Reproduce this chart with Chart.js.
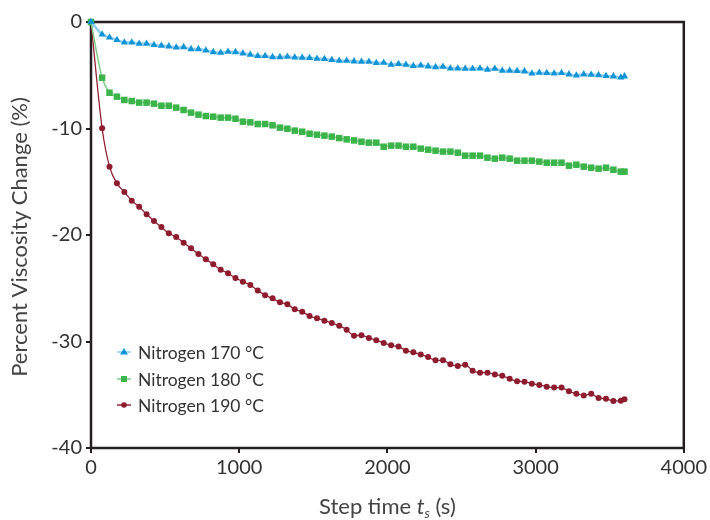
<!DOCTYPE html>
<html>
<head>
<meta charset="utf-8">
<script src="https://cdn.jsdelivr.net/npm/chart.js@4"></script>
<style>
  html, body { margin: 0; padding: 0; background: #fff; }
  #wrap { width: 710px; height: 520px; }
</style>
</head>
<body>
<div id="wrap"><canvas id="viscChart" width="710" height="520"></canvas></div>
<script>
// step time (s), shared by all three runs
const stepTimes = [0, 75, 125, 175, 225, 275, 325, 375, 425, 475, 525, 575, 625, 675, 725, 775, 825, 875, 925, 975,
  1025, 1075, 1125, 1175, 1225, 1275, 1325, 1375, 1425, 1475, 1525, 1575, 1625, 1675, 1725, 1775, 1825, 1875, 1925, 1975,
  2025, 2075, 2125, 2175, 2225, 2275, 2325, 2375, 2425, 2475, 2525, 2575, 2625, 2675, 2725, 2775, 2825, 2875, 2925, 2975,
  3025, 3075, 3125, 3175, 3225, 3275, 3325, 3375, 3425, 3475, 3525, 3575, 3600];

const n2_170 = [0, -1.16, -1.44, -1.69, -1.91, -1.91, -2.03, -2.03, -2.16, -2.22, -2.28, -2.38, -2.35, -2.54, -2.54, -2.66, -2.82, -2.88, -2.79, -2.82,
  -2.94, -3.07, -3.19, -3.19, -3.29, -3.29, -3.25, -3.32, -3.35, -3.38, -3.44, -3.47, -3.57, -3.63, -3.63, -3.69, -3.72, -3.72, -3.85, -3.82,
  -4.01, -3.94, -4.01, -4.13, -4.07, -4.16, -4.23, -4.19, -4.35, -4.35, -4.38, -4.38, -4.35, -4.48, -4.38, -4.57, -4.57, -4.60, -4.63, -4.82,
  -4.76, -4.79, -4.82, -4.79, -4.91, -5.01, -4.91, -4.95, -4.98, -5.07, -5.10, -5.20, -5.10];

const n2_180 = [0, -5.23, -6.64, -7.01, -7.32, -7.42, -7.57, -7.57, -7.67, -7.86, -7.86, -8.04, -8.26, -8.51, -8.70, -8.83, -8.89, -8.98, -8.98, -9.08,
  -9.36, -9.42, -9.58, -9.58, -9.70, -9.92, -10.02, -10.20, -10.30, -10.49, -10.58, -10.67, -10.76, -10.90, -11.02, -11.12, -11.24, -11.33, -11.33, -11.71,
  -11.61, -11.61, -11.71, -11.71, -11.89, -11.99, -12.08, -12.17, -12.17, -12.27, -12.55, -12.55, -12.55, -12.74, -12.83, -12.74, -12.83, -13.02, -13.02, -13.02,
  -13.11, -13.21, -13.21, -13.21, -13.49, -13.40, -13.58, -13.68, -13.77, -13.68, -13.87, -14.05, -14.05];

const n2_190 = [0, -9.98, -13.58, -15.15, -15.96, -16.78, -17.34, -18.06, -18.69, -19.25, -19.84, -20.19, -20.72, -21.25, -21.78, -22.28, -22.75, -23.26, -23.60, -24.04,
  -24.38, -24.69, -25.20, -25.66, -25.95, -26.32, -26.51, -26.98, -27.20, -27.61, -27.82, -28.04, -28.26, -28.51, -28.89, -29.45, -29.42, -29.67, -29.89, -30.14,
  -30.36, -30.48, -30.86, -31.02, -31.22, -31.46, -31.77, -31.77, -32.14, -32.30, -32.18, -32.74, -32.93, -32.93, -33.11, -33.21, -33.49, -33.74, -33.77, -33.96,
  -34.08, -34.24, -34.33, -34.33, -34.68, -34.90, -35.06, -34.90, -35.31, -35.37, -35.59, -35.56, -35.43];

const seriesNames = ['Nitrogen 170 °C', 'Nitrogen 180 °C', 'Nitrogen 190 °C'];
const xTicks = [0, 1000, 2000, 3000, 4000];
const yTicks = [0, -10, -20, -30, -40];

const FONT = 'Lato, "Open Sans", sans-serif';
const INK = '#231f20';

function toPoints(vals) {
    return stepTimes.map((t, i) => ({ x: t, y: vals[i] }));
}

const styles = [
    { line: '#8fd0f0', mark: '#1193d6', shape: 'triangle', r: 4.2, lw: 2.5 },
    { line: '#7fce86', mark: '#3bb44a', shape: 'rect', r: 4.6, lw: 1.5 },
    { line: '#8e2334', mark: '#8e1b2e', shape: 'circle', r: 3, lw: 1.3 }
];

// frame, axis titles and the little legend in the lower left
const decor = {
    id: 'decor',
    beforeDatasetsDraw(chart) {
        const { ctx, chartArea: a } = chart;
        ctx.save();
        ctx.strokeStyle = INK;
        ctx.lineWidth = 2.5;
        ctx.strokeRect(a.left, a.top, a.right - a.left, a.bottom - a.top);
        ctx.restore();
    },
    afterDraw(chart) {
        const { ctx, chartArea: a } = chart;
        ctx.save();
        ctx.fillStyle = '#444';
        ctx.font = '22px ' + FONT;
        ctx.textAlign = 'center';
        ctx.textBaseline = 'middle';
        ctx.translate(20, (a.top + a.bottom) / 2 + 2);
        ctx.rotate(-Math.PI / 2);
        ctx.fillText('Percent Viscosity Change (%)', 0, 0);
        ctx.restore();

        // x title with italic t and subscript s
        ctx.save();
        ctx.fillStyle = '#444';
        ctx.textBaseline = 'alphabetic';
        ctx.textAlign = 'left';
        const parts = [
            { s: 'Step time ', f: '22px ' + FONT, dy: 0 },
            { s: 't', f: 'italic 22px ' + FONT, dy: 0 },
            { s: 's', f: 'italic 13px ' + FONT, dy: 4 },
            { s: ' (s)', f: '22px ' + FONT, dy: 0 }
        ];
        let total = 0;
        parts.forEach(p => { ctx.font = p.f; p.w = ctx.measureText(p.s).width; total += p.w; });
        let x = (a.left + a.right) / 2 - total / 2;
        const base = 514;
        parts.forEach(p => { ctx.font = p.f; ctx.fillText(p.s, x, base + p.dy); x += p.w; });
        ctx.restore();

        // legend
        ctx.save();
        const rows = [352, 379, 405];
        styles.forEach((st, i) => {
            const y = rows[i];
            ctx.strokeStyle = st.line;
            ctx.lineWidth = 1.5;
            ctx.beginPath();
            ctx.moveTo(117, y);
            ctx.lineTo(131, y);
            ctx.stroke();
            ctx.fillStyle = st.mark;
            ctx.beginPath();
            if (st.shape === 'triangle') {
                ctx.moveTo(124, y - 4); ctx.lineTo(128, y + 2.5); ctx.lineTo(120, y + 2.5); ctx.closePath();
            } else if (st.shape === 'rect') {
                ctx.rect(121, y - 3, 6, 6);
            } else {
                ctx.arc(124, y, 2.8, 0, Math.PI * 2);
            }
            ctx.fill();
            ctx.fillStyle = '#333';
            ctx.font = '17.5px ' + FONT;
            ctx.textAlign = 'left';
            ctx.textBaseline = 'middle';
            ctx.fillText(seriesNames[i], 138, y + 1);
        });
        ctx.restore();
    }
};

const viscChart = new Chart(document.getElementById('viscChart').getContext('2d'), {
    type: 'line',
    data: {
        datasets: [n2_170, n2_180, n2_190].map((vals, i) => ({
            label: seriesNames[i],
            data: toPoints(vals),
            borderColor: styles[i].line,
            borderWidth: styles[i].lw,
            backgroundColor: styles[i].mark,
            pointBackgroundColor: styles[i].mark,
            pointBorderColor: styles[i].mark,
            pointBorderWidth: 0,
            pointStyle: styles[i].shape,
            pointRadius: styles[i].r,
            cubicInterpolationMode: 'monotone',
            fill: false,
            clip: false
        }))
    },
    options: {
        responsive: false,
        animation: false,
        layout: { padding: { top: 22, right: 24, left: 0, bottom: 0 } },
        plugins: {
            legend: { display: false },
            tooltip: { enabled: false }
        },
        scales: {
            x: {
                type: 'linear',
                min: 0,
                max: 4000,
                afterBuildTicks: s => { s.ticks = xTicks.map(v => ({ value: v })); },
                afterFit: s => { s.height = 72; },
                border: { display: false },
                grid: { drawOnChartArea: false, drawTicks: true, tickLength: 5, color: INK, lineWidth: 2 },
                ticks: { color: '#333', font: { family: FONT, size: 20 }, padding: 3, maxRotation: 0, callback: v => String(v) }
            },
            y: {
                type: 'linear',
                min: -40,
                max: 0,
                afterBuildTicks: s => { s.ticks = yTicks.map(v => ({ value: v })); },
                afterFit: s => { s.width = 91; },
                border: { display: false },
                grid: { drawOnChartArea: false, drawTicks: true, tickLength: 5, color: INK, lineWidth: 2 },
                ticks: { color: '#333', font: { family: FONT, size: 20 }, padding: 4, callback: v => String(v) }
            }
        }
    },
    plugins: [decor]
});
</script>
</body>
</html>
